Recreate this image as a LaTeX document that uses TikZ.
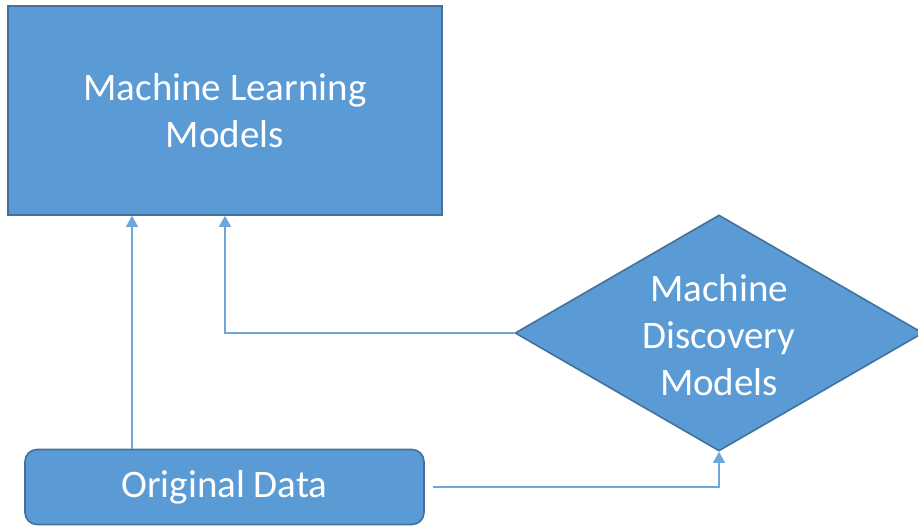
\documentclass[tikz,border=0pt]{standalone}
\usepackage{fontspec}
\setmainfont{Carlito}
\usetikzlibrary{shapes.geometric,arrows.meta}
\definecolor{fillblue}{HTML}{5B9BD5}
\definecolor{edgeblue}{HTML}{41719C}
\definecolor{linkblue}{HTML}{6FA6DA}
\begin{document}
\begin{tikzpicture}[x=1pt,y=-1pt,
  block/.style={draw=edgeblue, fill=fillblue, line width=1.6pt, text=white,
    font=\fontsize{39}{47}\selectfont, align=center, inner sep=0pt},
  conn/.style={draw=linkblue, line width=1.3pt,
    -{Triangle[width=12pt,length=11pt]}}]
  \useasboundingbox (0,0) rectangle (918,527);
  \clip (0,0) rectangle (918,527);

  % the three shapes
  \node[block, minimum width=434pt, minimum height=209pt] (ml) at (225,110.5)
    {Machine Learning\\Models};
  \node[block, diamond, aspect=1.73, minimum width=408pt, minimum height=236pt] (md) at (719,333) {};
  \node[text=white, font=\fontsize{39}{47}\selectfont, align=center] (mdtext) at (719,335)
    {Machine\\Discovery\\Models};
  \node[block, rounded corners=12pt, minimum width=399pt, minimum height=75pt] (od) at (224.5,487)
    {Original Data};

  % connectors
  \coordinate (c1) at (132,0);
  \draw[conn] (c1 |- od.north) -- (c1 |- ml.south);
  \draw[conn] (md.west) -| (ml.south);
  \draw[conn] ([xshift=8pt]od.east) -| (md.south);
\end{tikzpicture}
\end{document}
